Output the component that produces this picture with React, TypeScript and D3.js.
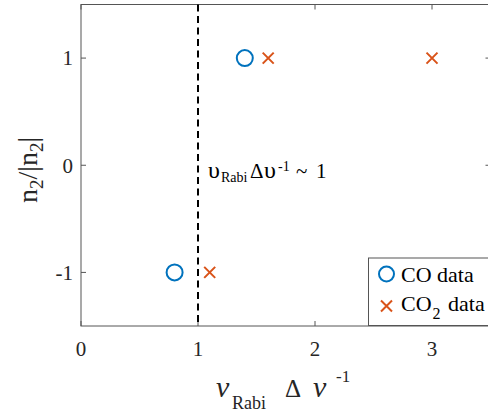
import React from "react";
import * as d3 from "d3";

const coX = [0.8, 1.4];
const coY = [-1, 1];
const co2X = [1.1, 1.6, 3];
const co2Y = [-1, 1, 1];
const xTicks = [0, 1, 2, 3];
const yTicks = [-1, 0, 1];
const thresholdX = 1;

const W = 488, H = 414;
const L = 81, R = 490.5, T = 4.5, B = 326;

export default function App() {
  const x = d3.scaleLinear().domain([0, 3.5]).range([L, R]);
  const y = d3.scaleLinear().domain([-1.5, 1.5]).range([B, T]);
  const font = "Liberation Serif";
  const axisColor = "#555";
  const blue = "#0072BD";
  const orange = "#D95319";
  const cross = (cx: number, cy: number, s: number) =>
    `M${cx - s},${cy - s}L${cx + s},${cy + s}M${cx - s},${cy + s}L${cx + s},${cy - s}`;
  return (
    <svg width={W} height={H} style={{ position: "absolute", left: 0, top: 0, background: "#fff", fontFamily: font }}>
      <rect x={L} y={T} width={R - L} height={B - T} fill="#fff" stroke={axisColor} strokeWidth={1} />
      {xTicks.map((t) => (
        <g key={"x" + t}>
          <line x1={x(t)} x2={x(t)} y1={B} y2={B - 5} stroke={axisColor} />
          <line x1={x(t)} x2={x(t)} y1={T} y2={T + 5} stroke={axisColor} />
          <text x={x(t)} y={356} textAnchor="middle" fontSize={21} fill="#262626">{t}</text>
        </g>
      ))}
      {yTicks.map((t) => (
        <g key={"y" + t}>
          <line x1={L} x2={L + 5} y1={y(t)} y2={y(t)} stroke={axisColor} />
          <line x1={R} x2={R - 5} y1={y(t)} y2={y(t)} stroke={axisColor} />
          <text x={73} y={y(t)} dy="0.35em" textAnchor="end" fontSize={21} fill="#262626">{t}</text>
        </g>
      ))}
      <line x1={x(thresholdX)} x2={x(thresholdX)} y1={T} y2={B} stroke="#000" strokeWidth={2} strokeDasharray="7,4.5" />
      <text y={178} fontSize={21} fill="#000">
        <tspan x={208} fontSize={24}>υ</tspan>
        <tspan x={221} fontSize={14} dy={4}>Rabi</tspan>
        <tspan x={250} dy={-4}>Δ</tspan>
        <tspan x={264} fontSize={24}>υ</tspan>
        <tspan x={278} fontSize={14} dy={-7}>-1</tspan>
        <tspan x={296} dy={7}>~</tspan>
        <tspan x={316}>1</tspan>
      </text>
      {coX.map((v, i) => (
        <circle key={"c" + i} cx={x(v)} cy={y(coY[i])} r={8} fill="none" stroke={blue} strokeWidth={2} />
      ))}
      {co2X.map((v, i) => (
        <path key={"p" + i} d={cross(x(v), y(co2Y[i]), 5.5)} stroke={orange} strokeWidth={2} fill="none" />
      ))}
      <rect x={368.5} y={258} width={130} height={67.5} fill="#fff" stroke={axisColor} strokeWidth={1} />
      <circle cx={386.5} cy={274} r={7.5} fill="none" stroke={blue} strokeWidth={2} />
      <text x={401} y={282} fontSize={22} fill="#000">CO data</text>
      <path d={cross(386.5, 306, 5.5)} stroke={orange} strokeWidth={2} fill="none" />
      <text y={311} fontSize={22} fill="#000">
        <tspan x={401}>CO</tspan>
        <tspan x={432.5} fontSize={16} dy={8}>2</tspan>
        <tspan x={448} dy={-8}>data</tspan>
      </text>
      <text transform={`translate(37,170) rotate(-90)`} textAnchor="middle" fontSize={28} fill="#262626">
        n<tspan fontSize={19} dy={6}>2</tspan><tspan dy={-6}>/|n</tspan><tspan fontSize={19} dy={6}>2</tspan><tspan dy={-6}>|</tspan>
      </text>
      <text y={397} fontSize={22} fill="#262626">
        <tspan x={216} fontSize={30} fontStyle="italic">ν</tspan>
        <tspan x={232} fontSize={18} dy={12}>Rabi</tspan>
        <tspan x={285} fontSize={25} dy={-12}>Δ</tspan>
        <tspan x={313} fontSize={30} fontStyle="italic">ν</tspan>
        <tspan x={336} fontSize={17} dy={-15}>-1</tspan>
      </text>
    </svg>
  );
}
